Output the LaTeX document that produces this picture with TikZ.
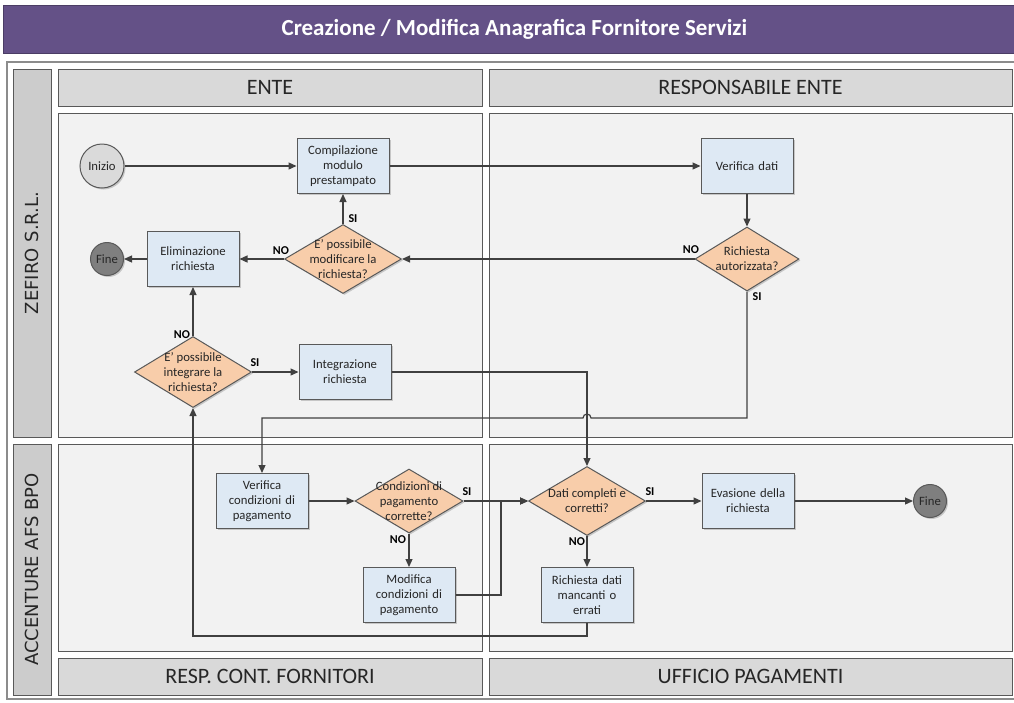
\documentclass[tikz,border=0pt]{standalone}
\usepackage{fontspec}
\setmainfont{Carlito}
\newfontfamily\lanefont{DejaVu Sans}
\usetikzlibrary{arrows.meta,shapes.geometric,shadows}

\definecolor{titlebar}{RGB}{100,81,135}
\definecolor{lanefill}{RGB}{242,242,242}
\definecolor{headfill}{RGB}{217,217,217}
\definecolor{stripfill}{RGB}{204,204,204}
\definecolor{boxfill}{RGB}{222,233,244}
\definecolor{decfill}{RGB}{248,205,170}
\definecolor{startfill}{RGB}{218,218,218}
\definecolor{endfill}{RGB}{127,127,127}
\definecolor{edge}{RGB}{89,89,89}
\definecolor{wire}{RGB}{64,64,64}
\definecolor{inktext}{RGB}{38,38,38}

\begin{document}
\begin{tikzpicture}[x=1pt,y=-1pt,
  lane/.style={draw=edge, fill=lanefill, line width=0.9pt},
  colhead/.style={rectangle, draw=edge, fill=headfill, line width=0.9pt, inner sep=0pt,
    minimum height=37pt, text=inktext, font=\fontsize{22}{24}\selectfont},
  rowhead/.style={rectangle, draw=edge, fill=stripfill, line width=0.9pt, inner sep=0pt,
    rotate=90, minimum height=38pt, text=inktext, font=\lanefont\fontsize{18}{20}\selectfont},
  softshadow/.style={drop shadow={shadow xshift=1.5pt, shadow yshift=-1.5pt, opacity=0.18, fill=black}},
  procbox/.style={rectangle, draw=edge, fill=boxfill, line width=1pt, inner sep=0pt,
    minimum width=92pt, minimum height=55pt, text width=88pt, align=center,
    text=inktext, font=\fontsize{12.7}{15}\selectfont, softshadow},
  decision/.style={diamond, draw=edge, fill=decfill, line width=1pt, inner sep=0pt, softshadow},
  dectext/.style={align=center, inner sep=0pt, text=inktext, font=\fontsize{12.7}{15}\selectfont},
  startnode/.style={circle, draw=edge, fill=startfill, line width=1pt, inner sep=0pt,
    minimum size=44pt, text=inktext, font=\fontsize{12.7}{15}\selectfont, softshadow},
  endnode/.style={circle, draw=edge, fill=endfill, line width=1pt, inner sep=0pt,
    minimum size=33pt, text=inktext, font=\fontsize{12.7}{15}\selectfont, softshadow},
  conn/.style={draw=wire, line width=1.2pt, -{Triangle[length=8pt,width=7pt]}},
  answer/.style={inner sep=0pt, text=black, font=\bfseries\fontsize{12}{12}\selectfont},
]
\useasboundingbox (0,0) rectangle (1014,702);
\fill[white] (0,0) rectangle (1014,702);

% title bar
\node[rectangle, fill=titlebar, draw=titlebar!75!black, line width=0.8pt, inner sep=0pt,
      minimum width=1022pt, minimum height=48pt, anchor=north west,
      text=white, font=\bfseries\fontsize{23}{25}\selectfont] (title) at (3,5)
      {Creazione / Modifica Anagrafica Fornitore Servizi};

% outer frame
\draw[draw=black!45, line width=1.2pt, fill=white] (7,62) rectangle (1025,699);

% column headers
\node[colhead, minimum width=424pt] (hEnte) at (270,87.5) {ENTE};
\node[colhead, minimum width=523pt] (hResp) at (750.5,87.5) {RESPONSABILE ENTE};
\node[colhead, minimum width=424pt] (hFornitori) at (270,676.5) {RESP. CONT. FORNITORI};
\node[colhead, minimum width=523pt] (hPagamenti) at (750.5,676.5) {UFFICIO PAGAMENTI};

% row headers
\node[rowhead, minimum width=368pt] (rZefiro) at (32,253) {ZEFIRO S.R.L.};
\node[rowhead, minimum width=251pt] (rAccenture) at (32,569.5) {ACCENTURE AFS BPO};

% swimlanes
\draw[lane] (58,113) rectangle (482,437);
\draw[lane] (489,113) rectangle (1012,437);
\draw[lane] (58,444) rectangle (482,651);
\draw[lane] (489,444) rectangle (1012,651);

% flow elements
\node[startnode] (start) at (102,166) {Inizio};
\node[procbox] (comp) at (343,166) {Compilazione\\modulo\\prestampato};
\node[procbox] (verif) at (747,166) {Verifica dati};

\node[decision, minimum width=117pt, minimum height=69pt,
      label={[dectext]center:E’ possibile\\modificare la\\richiesta?}] (dmod) at (343,259) {};
\node[procbox] (elim) at (193,259) {Eliminazione\\richiesta};
\node[endnode] (fineA) at (107,259) {Fine};
\node[decision, minimum width=104pt, minimum height=64pt,
      label={[dectext]center:Richiesta\\autorizzata?}] (daut) at (747,259) {};

\node[decision, minimum width=117pt, minimum height=71pt,
      label={[dectext]center:E’ possibile\\integrare la\\richiesta?}] (dint) at (193,372) {};
\node[procbox] (integr) at (345,372) {Integrazione\\richiesta};

\node[procbox] (vcond) at (262,501) {Verifica\\condizioni di\\pagamento};
\node[decision, minimum width=108pt, minimum height=64pt,
      label={[dectext]center:Condizioni di\\pagamento\\corrette?}] (dcond) at (409,501) {};
\node[procbox] (modif) at (409,595) {Modifica\\condizioni di\\pagamento};
\node[decision, minimum width=117pt, minimum height=69pt,
      label={[dectext]center:Dati completi e\\corretti?}] (ddati) at (587,501) {};
\node[procbox] (rdati) at (587,595) {Richiesta dati\\mancanti o\\errati};
\node[procbox] (evas) at (748,501) {Evasione della\\richiesta};
\node[endnode] (fineB) at (930,501) {Fine};

% routing points
\coordinate (autDown) at (747,418);
\coordinate (hopIn) at (591,418);
\coordinate (autLeft) at (262,418);
\coordinate (joinIn) at (501,501);
\coordinate (backRow) at (0,636);

% connectors
\draw[conn] (start.east) -- (comp.west);
\draw[conn] (comp.east) -- (verif.west);
\draw[conn] (verif.south) -- (daut.north);
\draw[conn] (daut.west) -- (dmod.east);
\draw[conn] (dmod.north) -- (comp.south);
\draw[conn] (dmod.west) -- (elim.east);
\draw[conn] (elim.west) -- (fineA.east);
\draw[conn] (dint.north) -- (elim.south);
\draw[conn] (dint.east) -- (integr.west);
\draw[conn] (daut.south) -- (autDown) -- (hopIn)
  arc[start angle=0, end angle=-180, radius=4] -- (autLeft) -- (vcond.north);
\draw[conn] (integr.east) -| (ddati.north);
\draw[conn] (vcond.east) -- (dcond.west);
\draw[conn] (dcond.east) -- (ddati.west);
\draw[conn] (dcond.south) -- (modif.north);
\draw[conn] (modif.east) -| (joinIn) -- (ddati.west);
\draw[conn] (ddati.east) -- (evas.west);
\draw[conn] (ddati.south) -- (rdati.north);
\draw[conn] (evas.east) -- (fineB.west);
\draw[conn] (rdati.south) -- (rdati.south |- backRow) -| (dint.south);

% branch answers
\node[answer] (aModSi) at (353,219) {SI};
\node[answer] (aModNo) at (281,251) {NO};
\node[answer] (aAutNo) at (691,250) {NO};
\node[answer] (aAutSi) at (757,297) {SI};
\node[answer] (aIntNo) at (182,335) {NO};
\node[answer] (aIntSi) at (255,363) {SI};
\node[answer] (aCondSi) at (467,492) {SI};
\node[answer] (aCondNo) at (398,540) {NO};
\node[answer] (aDatiSi) at (650,492) {SI};
\node[answer] (aDatiNo) at (577,542) {NO};
\end{tikzpicture}
\end{document}
